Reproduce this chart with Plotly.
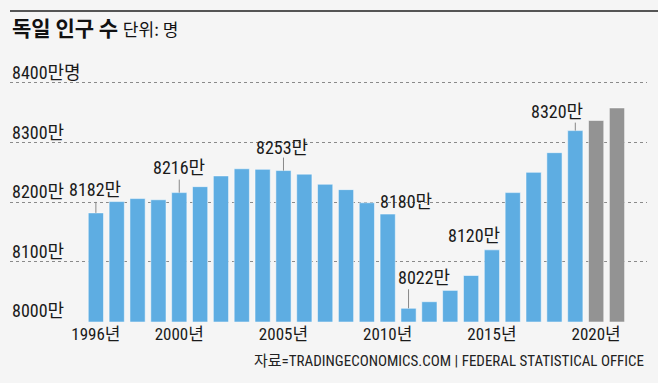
import plotly.graph_objects as go

years = list(range(1996, 2022))
population = [8182, 8201, 8206, 8204, 8216, 8226, 8244, 8256, 8255, 8253, 8247, 8230,
              8221, 8199, 8180, 8022, 8033, 8052, 8077, 8120, 8216, 8250, 8283, 8320,
              8337, 8358]
projected_from = 2020

label_years = [1996, 2000, 2005, 2010, 2011, 2015, 2019]
label_texts = ["8182만", "8216만", "8253만", "8180만", "8022만", "8120만", "8320만"]

y_ticks = [8000, 8100, 8200, 8300, 8400]
y_tick_texts = ["8000만", "8100만", "8200만", "8300만", "8400만명"]

x_ticks = [1996, 2000, 2005, 2010, 2015, 2020]
x_tick_texts = ["1996년", "2000년", "2005년", "2010년", "2015년", "2020년"]

title_main = "독일 인구 수"
title_unit = "단위: 명"
source_text = "자료=TRADINGECONOMICS.COM | FEDERAL STATISTICAL OFFICE"

# styling
NUM_FONT = "Liberation Sans Narrow, Roboto Condensed, Noto Sans CJK KR, sans-serif"
BLUE = "#5eade2"
GRAY = "#939393"
BG = "#f5f5f5"
W, H = 658, 383
M = dict(l=10, r=11, t=71, b=61)
Y_RANGE = [7999, 8420]
X_RANGE = [1991.88, 2022.44]
PH = H - M["t"] - M["b"]
PW = W - M["l"] - M["r"]
px_per_unit = PH / (Y_RANGE[1] - Y_RANGE[0])

# per-label placement (pixels): xshift, yshift, leader length
label_style = {
    1996: (-1, 11, 11),
    2000: (0, 13, 13),
    2005: (-1, 11, 13),
    2010: (18, 0, 0),
    2011: (15, 18, 19),
    2015: (-18, 2, 0),
    2019: (-18, 7, 8),
}

colors = [GRAY if y >= projected_from else BLUE for y in years]

fig = go.Figure()
fig.add_trace(go.Bar(
    x=years,
    y=[p - Y_RANGE[0] for p in population],
    base=Y_RANGE[0],
    width=0.73,
    marker=dict(color=colors, line=dict(color="rgba(255,255,255,0.5)", width=1)),
    hoverinfo="skip",
))

annotations = []
shapes = []
value_of = dict(zip(years, population))
for yr, txt in zip(label_years, label_texts):
    xs, ys, lead = label_style[yr]
    v = value_of[yr]
    annotations.append(dict(
        x=yr, y=v, xref="x", yref="y", text=txt, showarrow=False,
        xanchor="center", yanchor="bottom", xshift=xs, yshift=ys,
        font=dict(family=NUM_FONT, size=18, color="#1a1a1a"),
    ))
    if lead > 0:
        shapes.append(dict(
            type="line", xref="x", yref="y", x0=yr, x1=yr,
            y0=v, y1=v + lead / px_per_unit,
            line=dict(color="#888888", width=1),
        ))

for v, txt in zip(y_ticks, y_tick_texts):
    annotations.append(dict(
        x=0, y=v, xref="paper", yref="y", text=txt, showarrow=False,
        xanchor="left", yanchor="bottom", yshift=-2,
        font=dict(family=NUM_FONT, size=18, color="#1a1a1a"),
    ))

annotations.append(dict(
    x=0, y=1 + (M["t"] - 27) / PH, xref="paper", yref="paper",
    text=f"<b>{title_main}</b> <span style='font-size:17px'>{title_unit}</span>",
    showarrow=False, xanchor="left", yanchor="middle",
    font=dict(family="Noto Sans CJK KR, sans-serif", size=21, color="#111111"),
))
annotations.append(dict(
    x=1 - 1 / PW, y=-(361 - (H - M["b"])) / PH, xref="paper", yref="paper",
    text=source_text, showarrow=False, xanchor="right", yanchor="middle",
    font=dict(family=NUM_FONT, size=15, color="#222222"),
))

top_line_y = 1 + (M["t"] - 11) / PH
shapes.append(dict(type="line", xref="paper", yref="paper", x0=0, x1=1 + M["r"] / PW,
                   y0=top_line_y, y1=top_line_y, line=dict(color="#555555", width=2)))

fig.update_layout(
    width=W, height=H, margin=M,
    paper_bgcolor=BG, plot_bgcolor=BG,
    showlegend=False,
    annotations=annotations,
    shapes=shapes,
    bargap=0.27,
)

fig.update_xaxes(range=X_RANGE, tickvals=x_ticks, ticktext=x_tick_texts, showgrid=False,
                 zeroline=False, showline=False, ticks="",
                 tickfont=dict(family=NUM_FONT, size=17, color="#1a1a1a"))
fig.update_yaxes(range=Y_RANGE, tickvals=y_ticks, showticklabels=False, showgrid=True,
                 gridcolor="#8a8a8a", griddash="dot", gridwidth=1, zeroline=False, showline=False)

fig.write_html("out.html", config={"displayModeBar": False},
               post_script="document.body.style.margin='0';document.body.style.overflow='hidden';")
